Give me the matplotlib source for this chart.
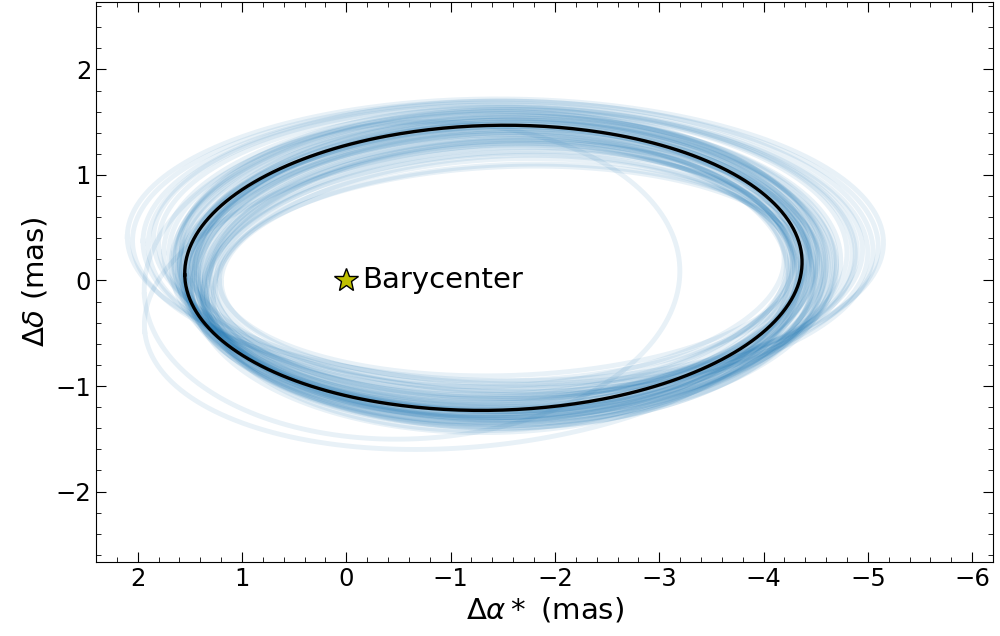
import matplotlib
matplotlib.use("Agg")
import matplotlib.pyplot as plt
import numpy as np

# best-fit orbit (projected ellipse): centre x, centre y, semi-major, semi-minor, tilt (deg)
best_orbit = [-1.41, 0.12, 2.96, 1.35, -1.3]

# sampled orbits, read as extents of each ellipse (mas) plus a small tilt (deg)
orbit_left = [1.55, 1.45, 1.30, 1.60, 2.05, 1.40, 1.25, 1.65, 1.35, 1.95,
              1.50, 1.20, 1.58, 1.70, 1.42, 1.52, 1.94, 1.95, 1.38, 1.62,
              1.48, 1.85, 1.28, 1.56, 1.44, 2.10, 1.34, 1.60, 1.50, 1.22,
              1.66, 1.40, 1.80, 1.46, 1.32, 1.54, 1.64, 1.36, 1.48, 1.58,
              1.26, 1.52, 1.42, 1.62, 1.38, 1.90, 1.46, 1.56, 1.30, 1.68,
              1.44, 1.50, 1.34, 1.60, 1.75, 1.40, 1.54, 1.48, 1.36, 1.58]
orbit_right = [-4.45, -4.35, -4.25, -4.60, -5.10, -4.50, -4.20, -4.70, -4.30, -5.00,
               -4.55, -4.40, -4.40, -4.85, -4.38, -4.62, -3.20, -4.45, -4.48, -4.52,
               -4.28, -4.95, -4.33, -4.66, -4.42, -5.15, -4.24, -4.74, -4.46, -4.36,
               -4.58, -4.32, -4.90, -4.64, -4.22, -4.50, -4.44, -4.56, -4.34, -4.80,
               -4.28, -4.48, -4.60, -4.40, -4.36, -5.05, -4.52, -4.30, -4.46, -4.68,
               -4.26, -4.58, -4.40, -4.50, -4.88, -4.44, -4.36, -4.70, -4.30, -4.54]
orbit_top = [1.50, 1.45, 1.35, 1.60, 1.70, 1.40, 1.20, 1.55, 1.30, 1.68,
             1.52, 1.10, 1.48, 1.62, 1.42, 1.58, 1.50, 1.27, 1.25, 1.64,
             1.38, 1.66, 1.18, 1.54, 1.46, 1.72, 1.32, 1.56, 1.44, 1.08,
             1.60, 1.36, 1.65, 1.50, 1.28, 1.48, 1.58, 1.34, 1.40, 1.62,
             1.15, 1.46, 1.52, 1.42, 1.30, 1.70, 1.44, 1.38, 1.22, 1.60,
             1.34, 1.50, 1.26, 1.54, 1.64, 1.40, 1.46, 1.56, 1.32, 1.52]
orbit_bottom = [-1.20, -1.25, -1.10, -1.30, -1.00, -1.35, -1.00, -1.25, -1.30, -1.05,
                -1.40, -0.95, -1.15, -1.10, -1.28, -1.33, -1.50, -1.57, -1.38, -1.18,
                -1.22, -0.98, -1.26, -1.36, -1.12, -0.95, -1.42, -1.20, -1.30, -0.90,
                -1.24, -1.34, -1.02, -1.28, -1.16, -1.38, -1.14, -1.24, -1.44, -1.06,
                -1.04, -1.26, -1.32, -1.18, -1.36, -1.08, -1.22, -1.28, -1.12, -1.30,
                -1.20, -1.40, -1.30, -1.22, -1.12, -1.16, -1.34, -1.24, -1.08, -1.32]
orbit_tilt = [-1.0, -1.5, -2.0, 0.0, 0.5, -1.0, -2.5, 0.5, -1.8, 1.0,
              -0.5, -2.0, -1.2, 0.0, -1.3, -0.2, -3.0, -6.0, -2.2, 0.3,
              -1.6, 1.0, -2.8, -0.4, -1.1, 0.5, -2.4, -0.3, -1.4, -2.0,
              0.2, -1.9, 0.8, -0.8, -2.2, -1.0, -0.6, -1.7, -1.5, 0.4,
              -2.6, -1.2, -0.6, -1.4, -2.0, 0.6, -1.1, -1.8, -2.3, -0.1,
              -1.9, -0.9, -2.1, -0.7, 0.2, -1.3, -1.5, -0.5, -2.4, -0.8]

xticks = [2, 1, 0, -1, -2, -3, -4, -5, -6]
yticks = [-2, -1, 0, 1, 2]


def ellipse(cx, cy, a, b, tilt):
    t = np.linspace(0, 2 * np.pi, 400)
    phi = np.radians(tilt)
    x = cx + a * np.cos(t) * np.cos(phi) - b * np.sin(t) * np.sin(phi)
    y = cy + a * np.cos(t) * np.sin(phi) + b * np.sin(t) * np.cos(phi)
    return x, y


fig, ax = plt.subplots(figsize=(10, 6.36), dpi=100)
fig.subplots_adjust(left=0.096, right=0.993, top=0.997, bottom=0.116)

for L, R, T, B, tilt in zip(orbit_left, orbit_right, orbit_top, orbit_bottom, orbit_tilt):
    x, y = ellipse((L + R) / 2, (T + B) / 2, (L - R) / 2, (T - B) / 2, tilt)
    ax.plot(x, y, color='tab:blue', alpha=0.1, lw=3.5)

x, y = ellipse(*best_orbit)
ax.plot(x, y, color='black', lw=2.4)

ax.plot(0, 0, marker='*', color='y', mec='black', ms=18, ls='none')
ax.text(-0.15, 0, 'Barycenter', fontsize=21, va='center', ha='left')

ax.set_xlim(2.4, -6.2)
ax.set_ylim(-2.67, 2.64)
ax.set_xticks(xticks)
ax.set_yticks(yticks)
ax.minorticks_on()
ax.tick_params(which='both', direction='in', top=True, right=True, labelsize=17.5)
ax.tick_params(which='major', length=7)
ax.tick_params(which='minor', length=3.5)
ax.set_xlabel(r'$\Delta \alpha *$ (mas)', fontsize=21, labelpad=3)
ax.set_ylabel(r'$\Delta \delta$ (mas)', fontsize=21, labelpad=4)

fig.savefig('out.png', dpi=100)
